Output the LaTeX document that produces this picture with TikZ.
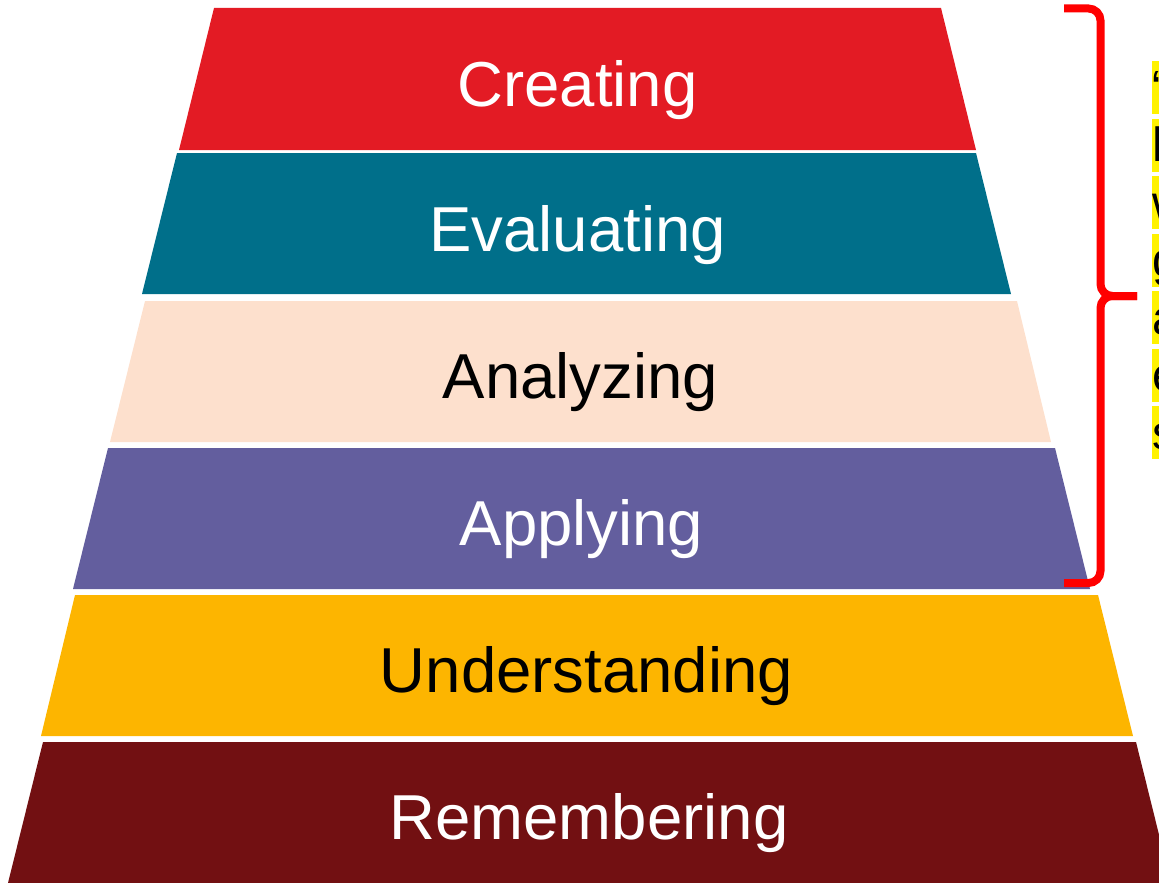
\documentclass[tikz,border=0pt]{standalone}
\usepackage{fontspec}
\setmainfont{Liberation Sans}
\usepackage{tikz}
\usetikzlibrary{positioning,calc}
\definecolor{lvlCreate}{RGB}{227,27,36}
\definecolor{lvlEval}{RGB}{0,111,138}
\definecolor{lvlAnalyze}{RGB}{253,224,205}
\definecolor{lvlApply}{RGB}{99,94,158}
\definecolor{lvlUnder}{RGB}{253,181,0}
\definecolor{lvlRemem}{RGB}{114,16,18}

\begin{document}
\begin{tikzpicture}[x=1pt,y=-1pt]
		\tikzset{lvl/.style={anchor=base, inner sep=0pt, font=\fontsize{63.5}{76}\selectfont},
			hl/.style={fill=yellow, inner sep=0pt, text height=43pt, text depth=10pt, anchor=base west, font=\fontsize{48}{57.5}\selectfont},
			brace/.style={draw=red, line width=8pt, rounded corners=12pt}}
		\useasboundingbox (0,0) rectangle (1159,883);
		% pyramid layers, top to bottom
		\fill[lvlCreate]  (214,8)   -- (941,8)   -- (976,150)  -- (179,150) -- cycle;
		\fill[lvlEval]    (177,153) -- (976,153) -- (1011,294) -- (142,294) -- cycle;
		\fill[lvlAnalyze] (145,301) -- (1017,301) -- (1051,442) -- (110,442) -- cycle;
		\fill[lvlApply]   (108,448) -- (1055,448) -- (1090,589) -- (73,589) -- cycle;
		\fill[lvlUnder]   (75,595)  -- (1098,595) -- (1133,736) -- (41,736) -- cycle;
		\fill[lvlRemem]   (43,742)  -- (1136,742) -- (1171,883) -- (8,883) -- cycle;
		\node[lvl,white] (creating) at (577.5,106) {Creating};
		\node[lvl,white] (evaluating) at (577.5,251) {Evaluating};
		\node[lvl,black] (analyzing) at (580.5,398) {Analyzing};
		\node[lvl,white] (applying) at (581.5,545) {Applying};
		\node[lvl,black] (understanding) at (586.5,692) {Understanding};
		\node[lvl,white] (remembering) at (589,839) {Remembering};
		% brace
		\coordinate (btop) at (1064,8.5);
		\coordinate (btip) at (1137,296);
		\coordinate (bbot) at (1064,583);
		\draw[brace] (btop) -| (1100.5,296) -- (btip);
		\draw[brace] (btip) -- (1100.5,296) |- (bbot);
		% highlighted text, cut at the right edge
		\node[hl] (line1) at (1152,104) {“};
		\node[hl] (line2) at (1152,161.5) {h};
		\node[hl] (line3) at (1152,219) {w};
		\node[hl] (line4) at (1152,276.5) {g};
		\node[hl] (line5) at (1152,334) {a};
		\node[hl] (line6) at (1152,391.5) {e};
		\node[hl] (line7) at (1152,449) {s};
	\end{tikzpicture}
\end{document}
